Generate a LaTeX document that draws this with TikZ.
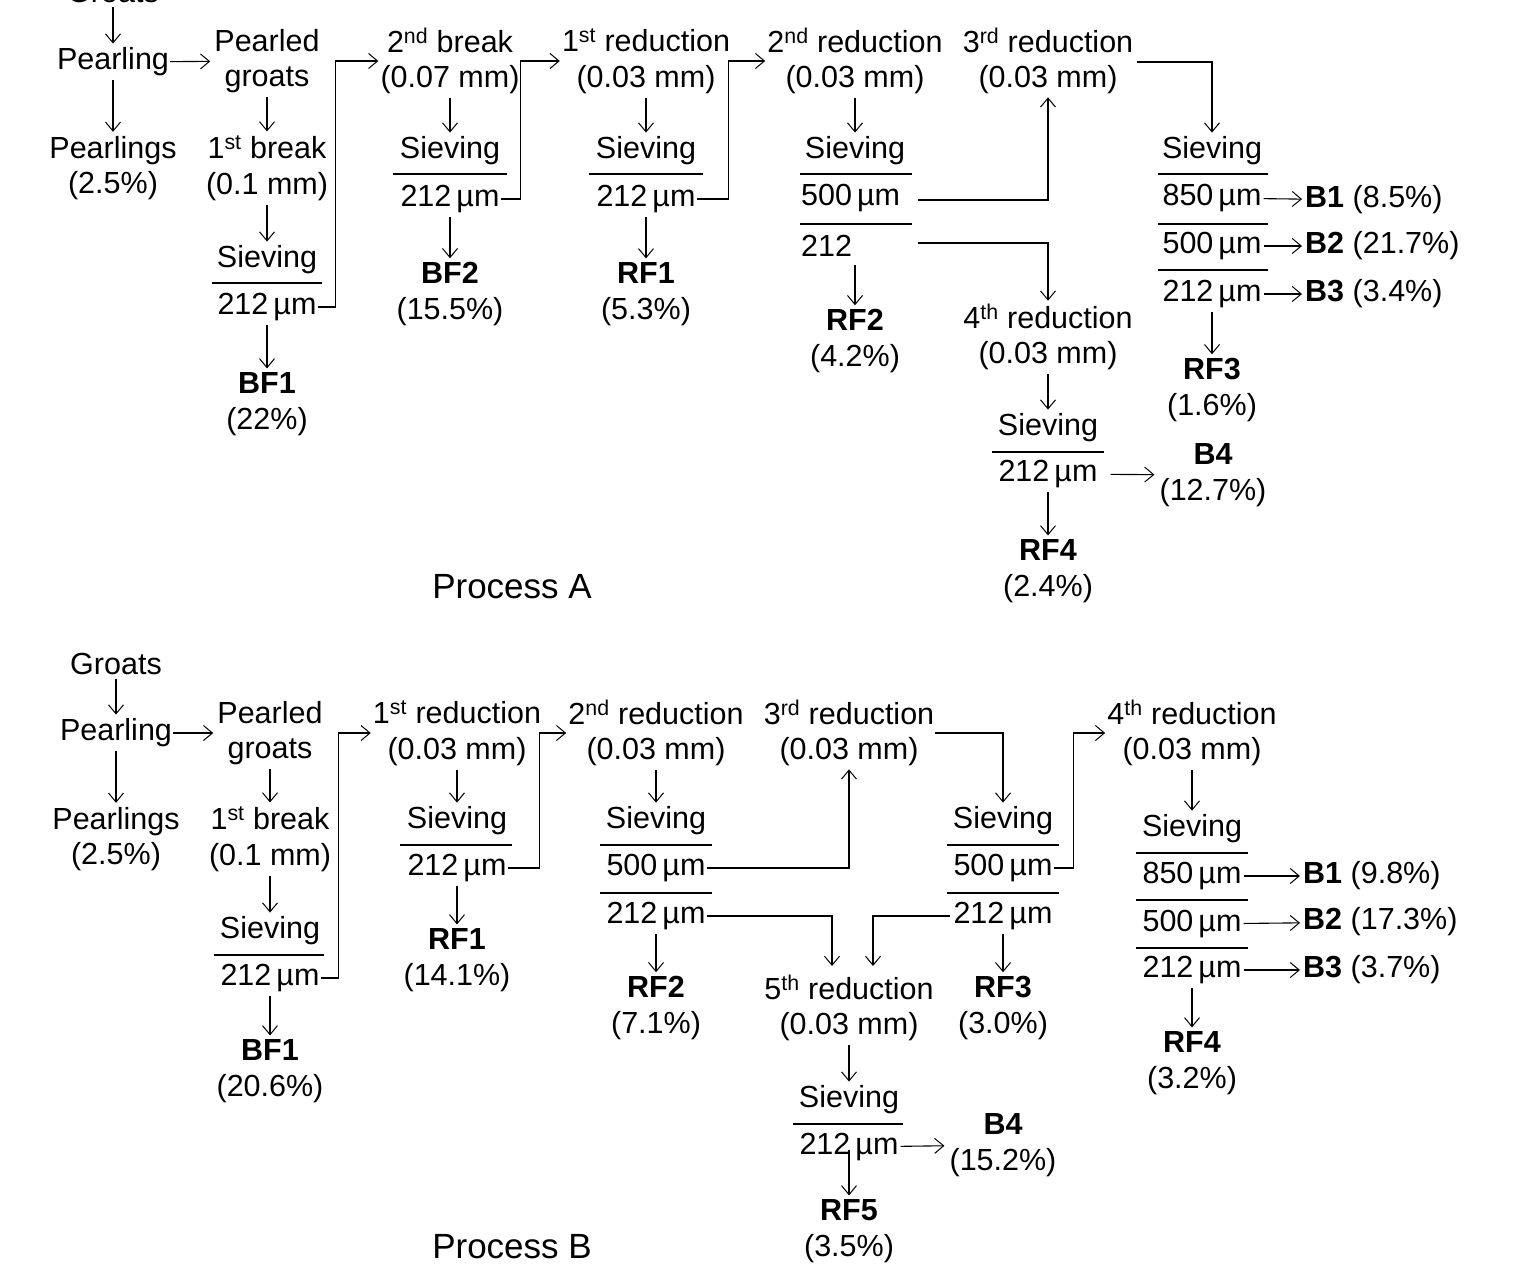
\documentclass[tikz,border=0pt]{standalone}
\usepackage{fontspec}
\setmainfont{Liberation Sans}
\usetikzlibrary{arrows.meta}
\tikzset{
  t/.style={inner sep=1pt, align=center, font=\fontsize{30.5}{35.5}\selectfont},
  arr/.style={line width=1.1pt, -{Straight Barb[length=9pt,width=15pt,line width=1pt]}, shorten >=3pt, shorten <=3pt},
  ln/.style={line width=1.2pt},
}
\newcommand{\mum}{\,µm}
\begin{document}
\begin{tikzpicture}[x=1pt,y=-1pt]
\useasboundingbox (0,0) rectangle (1530,1282);
% ================= Process A
\node[t] (aG) at (113,-8) {Groats};
\node[t] (aP) at (113,62) {Pearling};
\node[t] (aPG) at (267,61) {Pearled\\groats};
\node[t] (aPs) at (113,168) {Pearlings\\(2.5\%)};
\node[t] (aB1) at (267,168) {1\textsuperscript{st} break\\(0.1 mm)};
\node[t] (aS1) at (267,260) {Sieving};
\node[t] (aS1a) at (267,307) {212\mum};
\node[t] (aBF1) at (267,404) {\textbf{BF1}\\(22\%)};
\draw[ln] (212,283) -- (322,283);
\draw[arr] (aG) -- (aP);
\draw[arr,shorten <=0pt] (aP) -- (aPG);
\draw[arr] (aP) -- (aPs);
\draw[arr] (aPG) -- (aB1);
\draw[arr] (aB1) -- (aS1);
\draw[arr] (aS1a) -- (aBF1);

\node[t] (aB2) at (450,61) {2\textsuperscript{nd} break\\(0.07 mm)};
\node[t] (aS2) at (450,151) {Sieving};
\node[t] (aS2a) at (450,199) {212\mum};
\node[t] (aBF2) at (450,294) {\textbf{BF2}\\(15.5\%)};
\draw[ln] (393,174) -- (507,174);
\draw[arr] (aB2) -- (aS2);
\draw[arr] (aS2a) -- (aBF2);
\draw[arr,shorten <=0pt,shorten >=1pt] (aS1a.east) -- ++(18,0) |- (aB2.west);

\node[t] (aR1) at (646,61) {1\textsuperscript{st} reduction\\(0.03 mm)};
\node[t] (aS3) at (646,151) {Sieving};
\node[t] (aS3a) at (646,199) {212\mum};
\node[t] (aRF1) at (646,294) {\textbf{RF1}\\(5.3\%)};
\draw[ln] (589,174) -- (703,174);
\draw[arr] (aR1) -- (aS3);
\draw[arr] (aS3a) -- (aRF1);
\draw[arr,shorten <=0pt,shorten >=1pt] (aS2a.east) -- ++(20,0) |- (aR1.west);

\node[t] (aR2) at (855,61) {2\textsuperscript{nd} reduction\\(0.03 mm)};
\node[t] (aS4) at (855,151) {Sieving};
\node[t,anchor=west] (aS4a) at (800,198) {500\mum};
\node[t,anchor=west] (aS4b) at (800,246) {212};
\node[t] (aRF2) at (855,341) {\textbf{RF2}\\(4.2\%)};
\draw[ln] (800,174) -- (912,174);
\draw[ln] (800,224) -- (912,224);
\draw[arr] (aR2) -- (aS4);
\draw[arr] (855,262) -- (aRF2);
\draw[arr,shorten <=0pt,shorten >=1pt] (aS3a.east) -- ++(32,0) |- (aR2.west);

\node[t] (aR3) at (1048,61) {3\textsuperscript{rd} reduction\\(0.03 mm)};
\node[t] (aR4) at (1048,337) {4\textsuperscript{th} reduction\\(0.03 mm)};
\coordinate (a5e) at (918,200);
\coordinate (a2e) at (918,243);
\draw[arr,shorten <=0pt,shorten >=2pt] (a5e) -| (aR3.south);
\draw[arr,shorten <=0pt,shorten >=2pt] (a2e) -| (aR4.north);

\node[t] (aS5) at (1212,151) {Sieving};
\node[t] (aS5a) at (1212,198) {850\mum};
\node[t] (aS5b) at (1212,246) {500\mum};
\node[t] (aS5c) at (1212,294) {212\mum};
\draw[ln] (1158,174) -- (1268,174);
\draw[ln] (1158,224) -- (1268,224);
\draw[ln] (1158,270) -- (1268,270);
\draw[arr,shorten <=0pt] (1137,62) -| (aS5.north);
\node[t,anchor=west] (aBB1) at (1304,200) {\textbf{B1} (8.5\%)};
\node[t,anchor=west] (aBB2) at (1304,246) {\textbf{B2} (21.7\%)};
\node[t,anchor=west] (aBB3) at (1304,294) {\textbf{B3} (3.4\%)};
\draw[arr,shorten <=1pt,shorten >=2pt] (aS5a) -- (aBB1);
\draw[arr,shorten <=1pt,shorten >=2pt] (aS5b) -- (aBB2);
\draw[arr,shorten <=1pt,shorten >=2pt] (aS5c) -- (aBB3);
\node[t] (aRF3) at (1212,390) {\textbf{RF3}\\(1.6\%)};
\draw[arr] (aS5c) -- (aRF3);

\node[t] (aS6) at (1048,428) {Sieving};
\node[t] (aS6a) at (1048,474) {212\mum};
\draw[ln] (992,452) -- (1104,452);
\draw[arr] (aR4) -- (aS6);
\node[t] (aBB4) at (1213,475) {\textbf{B4}\\(12.7\%)};
\draw[arr,shorten <=12pt,shorten >=4pt] (aS6a) -- (aBB4);
\node[t] (aRF4) at (1048,571) {\textbf{RF4}\\(2.4\%)};
\draw[arr] (aS6a) -- (aRF4);
\node[t,font=\fontsize{35}{40}\selectfont] (aPA) at (512,587) {Process A};

% ================= Process B
\node[t] (bG) at (116,664) {Groats};
\node[t] (bP) at (116,733) {Pearling};
\node[t] (bPG) at (270,733) {Pearled\\groats};
\node[t] (bPs) at (116,839) {Pearlings\\(2.5\%)};
\node[t] (bB1) at (270,839) {1\textsuperscript{st} break\\(0.1 mm)};
\node[t] (bS1) at (270,931) {Sieving};
\node[t] (bS1a) at (270,978) {212\mum};
\node[t] (bBF1) at (270,1071) {\textbf{BF1}\\(20.6\%)};
\draw[ln] (214,955) -- (324,955);
\draw[arr] (bG) -- (bP);
\draw[arr,shorten <=0pt] (bP) -- (bPG);
\draw[arr] (bP) -- (bPs);
\draw[arr] (bPG) -- (bB1);
\draw[arr] (bB1) -- (bS1);
\draw[arr] (bS1a) -- (bBF1);

\node[t] (bR1) at (457,733) {1\textsuperscript{st} reduction\\(0.03 mm)};
\node[t] (bS2) at (457,821) {Sieving};
\node[t] (bS2a) at (457,868) {212\mum};
\node[t] (bRF1) at (457,960) {\textbf{RF1}\\(14.1\%)};
\draw[ln] (400,845) -- (512,845);
\draw[arr] (bR1) -- (bS2);
\draw[arr] (bS2a) -- (bRF1);
\draw[arr,shorten <=0pt,shorten >=1pt] (bS1a.east) -- ++(18,0) |- (bR1.west);

\node[t] (bR2) at (656,733) {2\textsuperscript{nd} reduction\\(0.03 mm)};
\node[t] (bS3) at (656,821) {Sieving};
\node[t] (bS3a) at (656,868) {500\mum};
\node[t] (bS3b) at (656,916) {212\mum};
\node[t] (bRF2) at (656,1008) {\textbf{RF2}\\(7.1\%)};
\draw[ln] (600,845) -- (712,845);
\draw[ln] (600,893) -- (712,893);
\draw[arr] (bR2) -- (bS3);
\draw[arr] (bS3b) -- (bRF2);
\draw[arr,shorten <=0pt,shorten >=1pt] (bS2a.east) -- ++(32,0) |- (bR2.west);

\node[t] (bR3) at (849,733) {3\textsuperscript{rd} reduction\\(0.03 mm)};
\node[t] (bR5) at (849,1008) {5\textsuperscript{th} reduction\\(0.03 mm)};
\draw[arr,shorten <=0pt,shorten >=2pt] (bS3a.east) -| (bR3.south);
\draw[arr,shorten <=0pt,shorten >=2pt] (bS3b.east) -| (832,968);

\node[t] (bS4) at (1003,821) {Sieving};
\node[t] (bS4a) at (1003,868) {500\mum};
\node[t] (bS4b) at (1003,916) {212\mum};
\node[t] (bRF3) at (1003,1008) {\textbf{RF3}\\(3.0\%)};
\draw[ln] (947,845) -- (1059,845);
\draw[ln] (947,893) -- (1059,893);
\draw[arr,shorten <=0pt] (935,733) -| (bS4.north);
\draw[arr] (bS4b) -- (bRF3);
\draw[arr,shorten <=0pt,shorten >=2pt] (950,916) -| (873,968);

\node[t] (bR4) at (1192,733) {4\textsuperscript{th} reduction\\(0.03 mm)};
\draw[arr,shorten <=0pt,shorten >=1pt] (bS4a.east) -- ++(20,0) |- (bR4.west);
\node[t] (bS5) at (1192,829) {Sieving};
\node[t] (bS5a) at (1192,876) {850\mum};
\node[t] (bS5b) at (1192,924) {500\mum};
\node[t] (bS5c) at (1192,970) {212\mum};
\draw[ln] (1136,853) -- (1248,853);
\draw[ln] (1136,900) -- (1248,900);
\draw[ln] (1136,948) -- (1248,948);
\draw[arr] (bR4) -- (bS5);
\node[t,anchor=west] (bBB1) at (1302,876) {\textbf{B1} (9.8\%)};
\node[t,anchor=west] (bBB2) at (1302,922) {\textbf{B2} (17.3\%)};
\node[t,anchor=west] (bBB3) at (1302,970) {\textbf{B3} (3.7\%)};
\draw[arr,shorten <=1pt,shorten >=2pt] (bS5a) -- (bBB1);
\draw[arr,shorten <=1pt,shorten >=2pt] (bS5b) -- (bBB2);
\draw[arr,shorten <=1pt,shorten >=2pt] (bS5c) -- (bBB3);
\node[t] (bRF4) at (1192,1063) {\textbf{RF4}\\(3.2\%)};
\draw[arr] (bS5c) -- (bRF4);

\node[t] (bS6) at (849,1100) {Sieving};
\node[t] (bS6a) at (849,1147) {212\mum};
\draw[ln] (793,1124) -- (903,1124);
\draw[arr] (bR5) -- (bS6);
\node[t] (bBB4) at (1003,1145) {\textbf{B4}\\(15.2\%)};
\draw[arr,shorten <=1pt,shorten >=4pt] (bS6a) -- (bBB4);
\node[t] (bRF5) at (849,1231) {\textbf{RF5}\\(3.5\%)};
\draw[arr,shorten <=0pt] (849,1150) -- (bRF5);
\node[t,font=\fontsize{35}{40}\selectfont] (bPB) at (512,1247) {Process B};
\end{tikzpicture}
\end{document}
